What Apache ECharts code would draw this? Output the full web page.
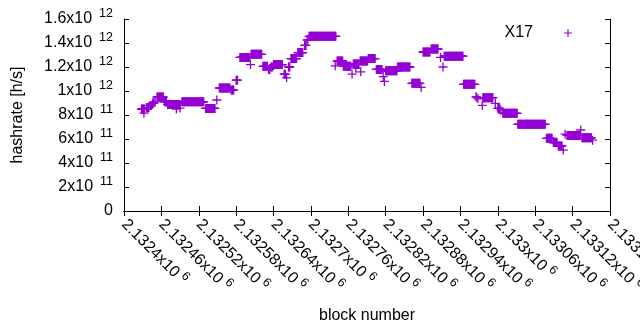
<!DOCTYPE html>
<html>
<head>
<meta charset="utf-8">
<script src="https://cdn.jsdelivr.net/npm/echarts@6/dist/echarts.min.js"></script>
<style>
  html, body { margin: 0; padding: 0; background: #ffffff; }
  #chart { width: 640px; height: 330px; }
</style>
</head>
<body>
<div id="chart"></div>
<script>
  // runs of constant hashrate: first block, last block, rate (x1e9 h/s)
  var runFirst = [2132428, 2132432, 2132436, 2132442, 2132446, 2132450, 2132453, 2132465, 2132470, 2132484, 2132490,
    2132493, 2132531, 2132549, 2132553, 2132572, 2132580, 2132586, 2132603, 2132604, 2132623, 2132632, 2132636,
    2132640, 2132657, 2132661, 2132664, 2132668, 2132679, 2132690, 2132694, 2132697, 2132739, 2132742, 2132752,
    2132766, 2132768, 2132772, 2132780, 2132779, 2132792, 2132805, 2132816, 2132818, 2132820, 2132839, 2132862,
    2132877, 2132880, 2132893, 2132908, 2132912, 2132914, 2132945, 2132965, 2132968, 2132975, 2132976, 2132996,
    2133000, 2133005, 2133008, 2133032, 2133078, 2133089, 2133097, 2133105, 2133108, 2133111, 2133133, 2133135,
    2133152];
  var runLast = [2132433, 2132432, 2132440, 2132444, 2132448, 2132450, 2132463, 2132468, 2132490, 2132484, 2132490,
    2132528, 2132546, 2132549, 2132570, 2132576, 2132582, 2132602, 2132603, 2132621, 2132630, 2132634, 2132638,
    2132654, 2132659, 2132661, 2132666, 2132677, 2132687, 2132692, 2132695, 2132740, 2132739, 2132751, 2132764,
    2132766, 2132777, 2132772, 2132780, 2132791, 2132803, 2132814, 2132816, 2132818, 2132838, 2132859, 2132875,
    2132877, 2132891, 2132904, 2132908, 2132912, 2132944, 2132963, 2132966, 2132968, 2132975, 2132992, 2132996,
    2133003, 2133005, 2133031, 2133076, 2133087, 2133095, 2133103, 2133105, 2133108, 2133132, 2133133, 2133150,
    2133152];
  var runRate = [850, 815, 860, 880, 900, 910, 950, 910, 888, 850, 858,
    910, 855, 925, 1025, 1008, 1090, 1280, 1220, 1306, 1206, 1180, 1200,
    1220, 1140, 1110, 1200, 1270, 1320, 1380, 1425, 1456, 1210, 1250, 1206,
    1140, 1225, 1190, 1160, 1250, 1270, 1180, 1120, 1080, 1168, 1200, 1064,
    1030, 1325, 1350, 1280, 1200, 1290, 1056, 950, 935, 880, 944, 897,
    856, 840, 814, 722, 606, 570, 542, 508, 640, 630, 675, 610,
    590];

  var seriesName = "X17";
  var xMin = 2132400, xMax = 2133180, xStep = 60;
  var yMin = 0, yMax = 1.6e12, yStep = 2e11;

  var points = [];
  for (var i = 0; i < runFirst.length; i++) {
    for (var b = runFirst[i]; b <= runLast[i]; b++) {
      points.push([b, runRate[i] * 1e9]);
    }
  }

  var font = "Liberation Sans";
  var plus = "path://M3.85,0h1.3v3.85h3.85v1.3h-3.85v3.85h-1.3v-3.85h-3.85v-1.3h3.85z";
  var violet = "#9400d3";

  // gnuplot style "1.6x10^12"
  function sciLabel(v) {
    if (v === 0) return "{m|0}";
    var e = Math.floor(Math.log10(v) + 1e-9);
    var m = parseFloat((v / Math.pow(10, e)).toFixed(6));
    return "{m|" + m + "x10}{s|" + e + "}";
  }
  function richFor(gap) {
    return {
      m: { fontFamily: font, fontSize: 16, color: "#000", lineHeight: 23 },
      s: { fontFamily: font, fontSize: 12.5, color: "#000", lineHeight: 23, verticalAlign: "top", padding: [0, 0, 0, gap] },
    };
  }

  var tick = { show: true, inside: true, length: 5, lineStyle: { color: "#000" } };
  var line = { show: true, lineStyle: { color: "#000", width: 1 } };

  var myChart = echarts.init(document.getElementById("chart"), null, { renderer: "canvas" });
  myChart.setOption({
    animation: false,
    backgroundColor: "#fff",
    grid: { left: 124, right: 30, top: 19, bottom: 119, containLabel: false, outerBoundsMode: "none" },
    legend: {
      data: [{ name: seriesName, icon: plus }],
      right: 68,
      top: 25,
      padding: 0,
      align: "right",
      itemWidth: 8,
      itemHeight: 8,
      textStyle: { fontFamily: font, fontSize: 16, color: "#000", padding: [0, 26, 0, 0] },
    },
    xAxis: [
      {
        type: "value",
        min: xMin,
        max: xMax,
        interval: xStep,
        name: "block number",
        nameLocation: "middle",
        nameGap: 97,
        nameTextStyle: { fontFamily: font, fontSize: 16, color: "#000" },
        axisLine: line,
        axisTick: tick,
        splitLine: { show: false },
        axisLabel: {
          rotate: -45,
          margin: 11,
          interval: 0,
          hideOverlap: false,
          showMinLabel: true,
          showMaxLabel: true,
          formatter: sciLabel,
          rich: richFor(4),
        },
      },
      {
        type: "value",
        position: "top",
        min: xMin,
        max: xMax,
        interval: xStep,
        axisLine: line,
        axisTick: tick,
        axisLabel: { show: false },
        splitLine: { show: false },
      },
    ],
    yAxis: [
      {
        type: "value",
        min: yMin,
        max: yMax,
        interval: yStep,
        name: "hashrate [h/s]",
        nameLocation: "middle",
        nameGap: 98,
        nameTextStyle: { fontFamily: font, fontSize: 16, color: "#000" },
        axisLine: line,
        axisTick: tick,
        splitLine: { show: false },
        axisLabel: { margin: 11, formatter: sciLabel, rich: richFor(7) },
      },
      {
        type: "value",
        position: "right",
        min: yMin,
        max: yMax,
        interval: yStep,
        axisLine: line,
        axisTick: tick,
        axisLabel: { show: false },
        splitLine: { show: false },
      },
    ],
    series: [
      {
        name: seriesName,
        type: "scatter",
        symbol: plus,
        symbolSize: 9,
        itemStyle: { color: violet, opacity: 1 },
        data: points,
        emphasis: { disabled: true },
      },
    ],
  });
</script>
</body>
</html>
